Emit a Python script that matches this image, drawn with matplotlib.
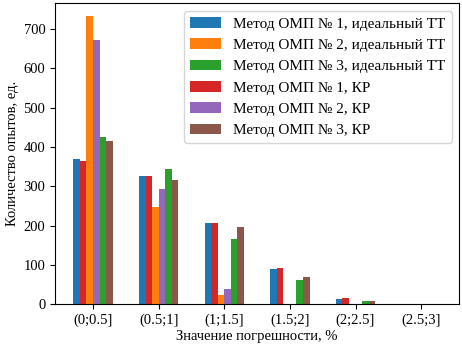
import matplotlib.pyplot as plt
import numpy as np

plt.rcParams['font.family'] = ['Liberation Serif', 'DejaVu Serif']

categories = ["(0;0.5]", "(0.5;1]", "(1;1.5]", "(1.5;2]", "(2;2.5]", "(2.5;3]"]

m1_ideal = [370, 326, 207, 90, 13, 0]
m1_kr = [365, 326, 207, 93, 15, 0]
m2_ideal = [733, 246, 24, 0, 0, 0]
m2_kr = [672, 292, 39, 0, 0, 0]
m3_ideal = [426, 343, 165, 61, 8, 0]
m3_kr = [415, 317, 197, 68, 8, 0]

series = [
    (m1_ideal, "Метод ОМП № 1, идеальный ТТ", "tab:blue"),
    (m1_kr, "Метод ОМП № 1, КР", "tab:red"),
    (m2_ideal, "Метод ОМП № 2, идеальный ТТ", "tab:orange"),
    (m2_kr, "Метод ОМП № 2, КР", "tab:purple"),
    (m3_ideal, "Метод ОМП № 3, идеальный ТТ", "tab:green"),
    (m3_kr, "Метод ОМП № 3, КР", "tab:brown"),
]

fig = plt.figure(figsize=(4.62, 3.52), dpi=100)
ax = fig.add_axes([0.119, 0.136, 0.875, 0.855])

x = np.arange(len(categories))
w = 0.1
handles = {}
for i, (vals, label, color) in enumerate(series):
    b = ax.bar(x + (i - 2.5) * w, vals, w, color=color, label=label)
    handles[label] = b

order = [0, 2, 4, 1, 3, 5]
ax.legend([handles[series[i][1]] for i in order], [series[i][1] for i in order],
          loc="upper right", fontsize=11)

ax.set_xticks(x)
ax.set_xticklabels(categories)
ax.set_ylim(0, 766)
ax.tick_params(labelsize=10.5)
ax.set_xlabel("Значение погрешности, %", fontsize=10.5, labelpad=2)
ax.set_ylabel("Количество опытов, ед.", fontsize=10.5, labelpad=3)

fig.savefig("out.png", dpi=100)
